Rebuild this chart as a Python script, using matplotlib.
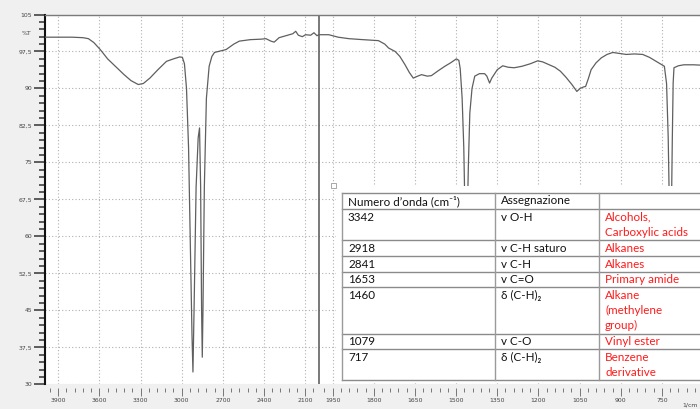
import numpy as np
import matplotlib
matplotlib.use("Agg")
import matplotlib.pyplot as plt
from matplotlib.patches import Rectangle
from matplotlib.ticker import FixedLocator, FixedFormatter, NullFormatter

# IR spectrum: wavenumber (cm-1) and transmittance (%T)
wavenumber = [
    4000, 3900, 3800, 3720, 3680, 3640, 3594, 3540, 3473, 3420, 3370, 3317, 3280,
    3232, 3170, 3111, 3060, 3014, 2995, 2980, 2965, 2950, 2935, 2925, 2918, 2910,
    2895, 2880, 2870, 2862, 2855, 2850, 2845, 2835, 2820, 2800, 2780, 2761, 2720,
    2676, 2620, 2580, 2500, 2420, 2386, 2350, 2326, 2290, 2240, 2190, 2169, 2150,
    2121, 2097, 2060, 2036, 2014, 2000, 1964, 1930, 1891, 1840, 1783, 1760, 1746,
    1722, 1705, 1686, 1670, 1656, 1640, 1626, 1605, 1590, 1565, 1541, 1520, 1499,
    1490, 1485, 1478, 1472, 1466, 1460, 1455, 1450, 1442, 1432, 1415, 1396, 1388,
    1378, 1370, 1350, 1330, 1310, 1288, 1260, 1230, 1203, 1185, 1160, 1140, 1120,
    1100, 1078, 1060, 1048, 1036, 1028, 1018, 1008, 990, 971, 950, 929, 905, 880,
    850, 820, 795, 771, 750, 741, 733, 727, 721, 716, 712, 709, 706, 690, 670, 634,
    600, 550, 500, 450, 400,
]
transmittance = [
    100.4, 100.4, 100.4, 100.3, 100.1, 99.3, 97.9, 96.0, 94.2, 92.8, 91.6, 90.8, 91.0,
    92.1, 93.9, 95.5, 96.0, 96.4, 96.3, 95.0, 90.0, 78.0, 55.0, 40.0, 32.5, 45.0,
    70.0, 80.0, 82.0, 70.0, 45.0, 35.5, 45.0, 70.0, 88.0, 94.5, 96.5, 97.3, 97.6,
    97.9, 99.0, 99.6, 99.9, 100.0, 100.1, 99.6, 99.4, 100.3, 100.7, 101.1, 101.6, 100.8,
    100.5, 100.9, 100.8, 101.3, 100.7, 100.9, 100.9, 100.4, 100.1, 99.9, 99.7, 99.0, 98.2,
    97.5, 96.5, 94.8, 93.2, 92.1, 92.5, 92.8, 92.5, 92.6, 93.6, 94.5, 95.2, 96.0,
    95.7, 94.0, 88.0, 78.0, 60.0, 62.0, 75.0, 85.0, 90.0, 92.5, 93.0, 93.0, 92.5,
    91.1, 92.1, 93.8, 94.6, 94.3, 94.2, 94.5, 95.0, 95.6, 95.4, 94.8, 94.3, 93.5,
    92.3, 90.8, 89.4, 90.0, 90.3, 90.4, 92.0, 93.8, 95.2, 96.2, 96.9, 97.3, 97.1, 96.9,
    97.0, 96.9, 96.3, 95.5, 94.8, 94.5, 91.0, 80.0, 60.0, 62.0, 80.0, 91.1, 94.2, 94.6, 94.8, 94.8,
    94.7, 94.7, 94.6, 94.6, 94.5,
]

x_major = [3900, 3600, 3300, 3000, 2700, 2400, 2100,
           1950, 1800, 1650, 1500, 1350, 1200, 1050, 900, 750]
y_major = [30, 37.5, 45, 52.5, 60, 67.5, 75, 82.5, 90, 97.5, 105]
y_labels = ["30", "37,5", "45", "52,5", "60", "67,5", "75", "82,5", "90", "97,5", "105"]

header = ["Numero d\u2019onda (cm\u207b\u00b9)", "Assegnazione", ""]
peaks = ["3342", "2918", "2841", "1653", "1460", "1079", "717"]
assignments = ["v O-H", "v C-H saturo", "v C-H", "v C=O",
               "\u03b4 (C-H)\u2082", "v C-O", "\u03b4 (C-H)\u2082"]
groups = ["Alcohols,\nCarboxylic acids", "Alkanes", "Alkanes", "Primary amide",
          "Alkane\n(methylene\ngroup)", "Vinyl ester", "Benzene\nderivative"]

W, H = 700, 409
TABLE_FONT = ["Lato", "DejaVu Sans"]


def fwd(x):
    # instrument doubles the scale below 2000 cm-1
    x = np.asarray(x, dtype=float)
    return np.where(x >= 2000, x, 2 * x - 2000)


def inv(u):
    u = np.asarray(u, dtype=float)
    return np.where(u >= 2000, u, (u + 2000) / 2)


fig = plt.figure(figsize=(W / 100, H / 100), dpi=100)
fig.patch.set_facecolor("#f0f0f0")

# plot area in pixels: x from 44.5 (4000) at 0.1372 px per scale unit, y 14.5..384.3
ax = fig.add_axes([44.5 / W, (H - 384.3) / H, 5200 * 0.1372 / W, 369.8 / H])
ax.set_facecolor("white")
ax.set_xscale("function", functions=(fwd, inv))
ax.set_xlim(4000, 400)
ax.set_ylim(30, 105)

ax.plot(wavenumber, transmittance, color="#5f5f5f", lw=0.9, zorder=3)
ax.axvline(2000, color="#555555", lw=1.1, zorder=2)

minor_x = [v for v in range(3960, 2000, -60) if v not in x_major] + \
          [v for v in range(1980, 400, -30) if v not in x_major]
ax.xaxis.set_major_locator(FixedLocator(x_major))
ax.xaxis.set_major_formatter(FixedFormatter([str(v) for v in x_major]))
ax.xaxis.set_minor_locator(FixedLocator(minor_x))
ax.xaxis.set_minor_formatter(NullFormatter())
ax.yaxis.set_major_locator(FixedLocator(y_major))
ax.yaxis.set_major_formatter(FixedFormatter(y_labels))
ax.yaxis.set_minor_locator(FixedLocator(list(np.arange(30, 105.1, 1.5))))

ax.grid(True, which="major", ls=(0, (1, 2)), color="#b0b0b0", lw=0.8, zorder=1)

ax.spines["right"].set_visible(False)
ax.spines["bottom"].set_visible(False)
ax.spines["bottom"].set_position(("outward", 3))
ax.spines["top"].set_color("#7a7a7a")
ax.spines["top"].set_linewidth(1.0)
ax.spines["left"].set_color("#111111")
ax.spines["left"].set_linewidth(1.5)

ax.tick_params(axis="y", which="major", length=8, width=1.1, color="#333333",
               labelsize=4.4, labelcolor="#444444", pad=1)
ax.tick_params(axis="y", which="minor", length=4.3, width=1.1, color="#333333")
ax.tick_params(axis="x", which="major", length=6, width=0.7, color="#777777",
               labelsize=4.4, labelcolor="#444444", pad=1)
ax.tick_params(axis="x", which="minor", length=3, width=0.7, color="#777777")

fig.text(26.7 / W, 1 - 33.5 / H, "%T", fontsize=4.4, color="#444444",
         ha="center", va="center")
fig.text(698 / W, 1 - 405 / H, "1/cm", fontsize=4.4, color="#444444",
         ha="right", va="center")

# table pasted on top of the spectrum, drawn in pixel coordinates
ov = fig.add_axes([0, 0, 1, 1], zorder=5)
ov.set_xlim(0, W)
ov.set_ylim(H, 0)
ov.axis("off")
ov.patch.set_alpha(0)

ov.add_patch(Rectangle((336, 186), 400, 197, facecolor="white", edgecolor="none"))
ov.add_patch(Rectangle((330.5, 182.5), 5, 5, facecolor="white",
                       edgecolor="#9a9a9a", lw=0.6))

col_x = [342, 495, 599, 760]
n_lines = [1] + [g.count("\n") + 1 for g in groups]
row_y = [193.0]
for i, n in enumerate(n_lines):
    h = 16.3 if i == 0 else 15.7 + 15.3 * (n - 1)
    row_y.append(row_y[-1] + h)

for y in row_y:
    ov.plot([col_x[0], col_x[-1]], [y, y], color="#8a8a8a", lw=1.0)
for x in col_x[:-1]:
    ov.plot([x, x], [row_y[0], row_y[-1]], color="#9a9a9a", lw=1.0)

rows = [header] + [[p, a, g] for p, a, g in zip(peaks, assignments, groups)]
for r, row in enumerate(rows):
    top = row_y[r]
    for c, cell in enumerate(row):
        color = "#ff1a1a" if (c == 2 and r > 0) else "#111111"
        for k, line in enumerate(cell.split("\n")):
            ov.text(col_x[c] + 6, top + 8 + 15 * k, line, fontsize=8.4,
                    family=TABLE_FONT, color=color, ha="left", va="center")

fig.savefig("out.png", dpi=100, facecolor=fig.get_facecolor())
plt.close(fig)
